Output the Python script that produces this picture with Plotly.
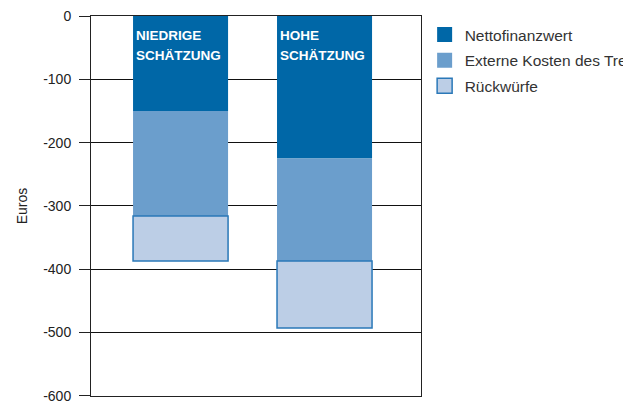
import plotly.graph_objects as go

categories = ["NIEDRIGE SCHÄTZUNG", "HOHE SCHÄTZUNG"]
label_lines = [["NIEDRIGE", "SCHÄTZUNG"], ["HOHE", "SCHÄTZUNG"]]
series_names = ["Nettofinanzwert", "Externe Kosten des Treibstoffs", "Rückwürfe"]
netto = [-150, -225]
extern = [-166, -162]
rueckwuerfe = [-71, -106]
y_ticks = [0, -100, -200, -300, -400, -500, -600]
y_ticktext = ["0", "-100", "-200", "-300", "-400", "-500", "-600"]

xpos = [0, 1]
colors = ["#0067A7", "#6B9ECC", "#BCCEE6"]
lines = ["#0067A7", "#6B9ECC", "#2A78B8"]
widths = [0, 0, 1.5]

fig = go.Figure()
for i, (name, vals, c, lc, lw) in enumerate(zip(series_names, [netto, extern, rueckwuerfe], colors, lines, widths)):
    fig.add_trace(go.Bar(
        x=xpos, y=vals, name=name, width=0.66, showlegend=False,
        marker=dict(color=c, line=dict(color=lc, width=lw)),
    ))
    fig.add_trace(go.Scatter(
        x=[None], y=[None], mode="markers", name=name, legendgroup="g%d" % i,
        marker=dict(symbol="square", size=15, color=c,
                    line=dict(color=lc if lw else c, width=1.5 if lw else 0)),
    ))

FONT = "Liberation Sans, Arial, Helvetica, sans-serif"
for xi, ln in zip(xpos, label_lines):
    for k, t in enumerate(ln):
        fig.add_annotation(
            x=xi - 0.33, y=0, xref="x", yref="y", text="<b>%s</b>" % t,
            showarrow=False, xanchor="left", yanchor="middle",
            xshift=1, yshift=-19 - 20 * k,
            font=dict(family=FONT, size=13.5, color="white"),
        )

fig.update_layout(
    width=623, height=401,
    margin=dict(l=91, r=202, t=16, b=5, autoexpand=False),
    barmode="relative",
    plot_bgcolor="white", paper_bgcolor="white",
    font=dict(family=FONT, size=14, color="#222"),
    showlegend=True,
    legend=dict(x=1.011, y=0.995, xanchor="left", yanchor="top",
                font=dict(size=15.5, color="#333"),
                itemwidth=30, tracegroupgap=2.5),
    xaxis=dict(range=[-0.622, 1.670], showticklabels=False, showgrid=False,
               zeroline=False, showline=True, linecolor="#222", linewidth=1,
               mirror=True, ticks=""),
    yaxis=dict(range=[-600.3, 0], tickvals=y_ticks, ticktext=y_ticktext,
               showgrid=True, gridcolor="#111", gridwidth=1, zeroline=False,
               showline=True, linecolor="#222", linewidth=1, mirror=True,
               ticks="outside", ticklen=11, tickcolor="#222",
               ticklabelstandoff=5, ticklabeloverflow="allow",
               title=dict(text="Euros", standoff=12, font=dict(size=14)),
               tickfont=dict(size=14, color="#222")),
)

fig.write_html("out.html")
